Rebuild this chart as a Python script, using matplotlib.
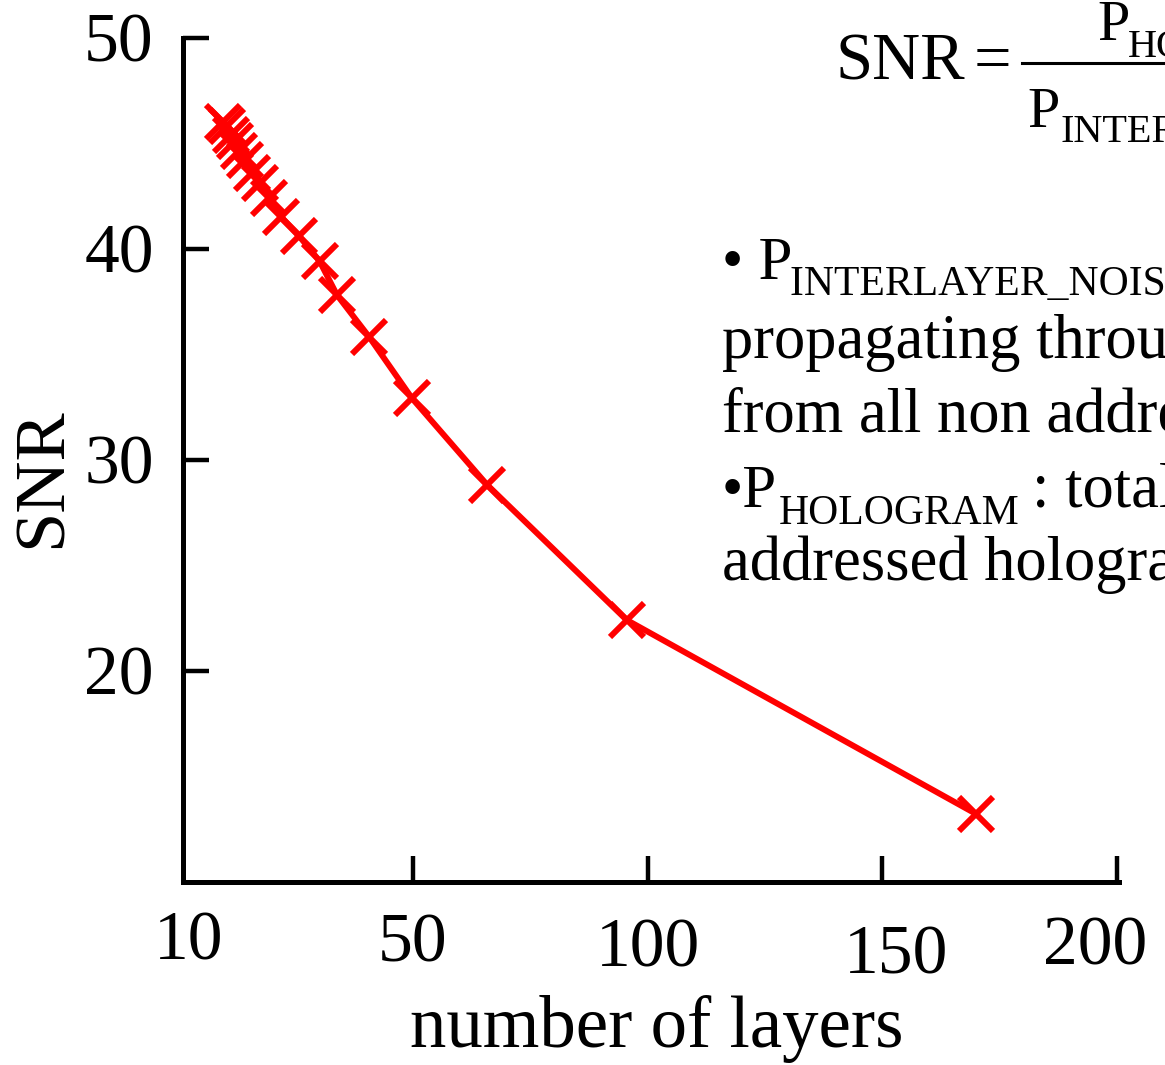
import matplotlib
matplotlib.use("Agg")
import matplotlib.pyplot as plt
import matplotlib.transforms as mtransforms
from matplotlib.lines import Line2D

plt.rcParams["font.family"] = ["Liberation Serif", "DejaVu Serif"]

# data
layers = [170.0, 95.5, 65.8, 49.8, 40.7, 33.8, 30.1, 25.7, 21.9, 19.4,
          17.5, 15.8, 14.3, 13.0, 12.0, 11.2, 10.3, 9.6]
snr = [13.2, 22.4, 28.8, 32.9, 35.8, 37.8, 39.4, 40.6, 41.5, 42.4,
       43.1, 43.6, 44.2, 44.6, 45.1, 45.4, 45.8, 46.0]

xtick_pos = [2.2, 50, 100, 150, 200]
xtick_labels = ["10", "50", "100", "150", "200"]
xtick_pads = [21, 23, 26, 31, 25]
xtick_shift = [0, 0, 0, 10, -16]   # points, the labels are not quite centred
ytick_pos = [20, 30, 40, 50]
ytick_labels = ["20", "30", "40", "50"]

W, H = 1165, 1065
fig = plt.figure(figsize=(W / 100, H / 100), dpi=100)
ax = fig.add_axes([183 / W, 1 - 881.5 / H, (1119.3 - 183) / W, 844 / H])

ax.plot(layers, snr, color="#ff0000", lw=4.3, marker="x", ms=24, mew=4.3)

ax.set_xlim(1, 200.5)
ax.set_ylim(10, 50)
for s in ["top", "right"]:
    ax.spines[s].set_visible(False)
for s in ["left", "bottom"]:
    ax.spines[s].set_linewidth(3.6)

ax.set_xticks(xtick_pos, xtick_labels)
ax.set_yticks(ytick_pos, ytick_labels)
ax.tick_params(direction="in", length=19, width=3.2, labelsize=50)
ax.tick_params(axis="y", pad=21)
for tick, pad, dx in zip(ax.xaxis.get_major_ticks(), xtick_pads, xtick_shift):
    tick.set_pad(pad)
    lab = tick.label1
    lab.set_transform(lab.get_transform() +
                      mtransforms.ScaledTranslation(dx / 72, 0, fig.dpi_scale_trans))
ax.xaxis.get_major_ticks()[0].tick1line.set_visible(False)

ax.set_xlabel("number of layers", fontsize=52.5)
ax.xaxis.set_label_coords(0.5057, -0.135)
ax.set_ylabel("SNR", fontsize=52)
ax.yaxis.set_label_coords(-0.115, 0.4787)


def ftext(x, y, s, size, **kw):
    # x, y in pixels from the top-left corner, y = baseline
    fig.text(x / W, 1 - y / H, s, fontsize=size, va="baseline", **kw)


# formula, cut by the right edge as in the reference
ftext(836, 80, "SNR", 48)
ftext(992, 80, "=", 48, ha="center")
fig.add_artist(Line2D([1022 / W, 1.05], [1 - 63 / H] * 2, color="k", lw=2.2))
ftext(1097, 40, "P", 42)
ftext(1128, 57, "HOLOGRAM", 29)
ftext(1027, 127, "P", 42)
ftext(1060, 142, "INTERLAYER_NOISE", 29)

# notes
ftext(722, 279, "\u2022 P", 44)
ftext(790, 295, "INTERLAYER_NOISE : total power", 30)
ftext(722, 358, "propagating through the layer", 45)
ftext(722, 432, "from all non addressed holograms", 45)
ftext(722, 507, "\u2022P", 44)
ftext(779, 524, "HOLOGRAM", 30)
ftext(1032, 507, ": total power of the", 45)
ftext(722, 580, "addressed hologram", 45)

fig.savefig("out.png", dpi=100)
